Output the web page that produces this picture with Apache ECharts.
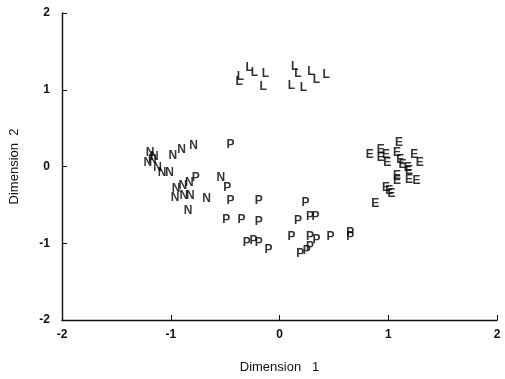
<!DOCTYPE html>
<html>
<head>
<meta charset="utf-8">
<script src="https://cdn.jsdelivr.net/npm/echarts@6/dist/echarts.min.js"></script>
<style>
  html, body { margin: 0; padding: 0; background: #fff; }
  #chart { width: 505px; height: 379px; }
</style>
</head>
<body>
<div id="chart"></div>
<script>
// group letters (markers) and their positions
const groupLetters = ['L', 'N', 'P', 'E']

const lPoints = [
  [-0.36, 1.17], [-0.28, 1.29], [-0.23, 1.22], [-0.13, 1.21], [-0.37, 1.10],
  [-0.15, 1.04], [0.14, 1.30], [0.17, 1.21], [0.11, 1.05], [0.22, 1.03],
  [0.29, 1.23], [0.34, 1.13], [0.43, 1.19]
]
const nPoints = [
  [-1.19, 0.18], [-1.15, 0.13], [-1.21, 0.05], [-1.17, 0.09], [-1.12, -0.01],
  [-1.08, -0.08], [-1.01, -0.08], [-0.98, 0.14], [-0.90, 0.22], [-0.79, 0.27],
  [-0.95, -0.29], [-0.89, -0.25], [-0.83, -0.21], [-0.96, -0.40], [-0.88, -0.38],
  [-0.82, -0.38], [-0.67, -0.42], [-0.84, -0.57], [-0.54, -0.14]
]
const pPoints = [
  [-0.45, 0.29], [-0.77, -0.14], [-0.48, -0.27], [-0.45, -0.45], [-0.19, -0.45],
  [0.24, -0.47], [-0.49, -0.69], [-0.35, -0.69], [-0.19, -0.72], [0.17, -0.71],
  [0.28, -0.65], [0.33, -0.66], [-0.30, -0.99], [-0.24, -0.97], [-0.19, -0.99],
  [-0.10, -1.08], [0.11, -0.92], [0.28, -0.92], [0.34, -0.95], [0.47, -0.91],
  [0.65, -0.86], [0.65, -0.92], [0.19, -1.14], [0.25, -1.10], [0.28, -1.04]
]
const ePoints = [
  [0.83, 0.16], [0.93, 0.22], [0.93, 0.12], [0.98, 0.16], [0.99, 0.05],
  [1.10, 0.31], [1.08, 0.18], [1.11, 0.09], [1.13, 0.03], [1.18, -0.01],
  [1.24, 0.16], [1.29, 0.05], [1.08, -0.12], [1.08, -0.19], [1.19, -0.17],
  [1.26, -0.19], [1.19, -0.06], [0.98, -0.27], [1.01, -0.32], [1.03, -0.35],
  [0.88, -0.48]
]

const xName = 'Dimension   1'
const yName = 'Dimension  2'
const font = 'Liberation Sans'

const letterSeries = (letter, pts) => ({
  type: 'scatter',
  name: letter,
  data: pts,
  symbolSize: 6,
  itemStyle: { color: 'rgba(0,0,0,0)' },
  label: {
    show: true,
    position: 'inside',
    formatter: letter,
    color: '#000',
    fontFamily: font,
    fontWeight: 'bold',
    fontSize: 12,
  },
  emphasis: { disabled: true },
})

const axisCommon = {
  type: 'value',
  min: -2,
  max: 2,
  interval: 1,
  splitLine: { show: false },
  axisLine: { show: true, onZero: false, lineStyle: { color: '#111', width: 1.4 } },
  axisTick: { show: true, inside: true, length: 5, lineStyle: { color: '#111' } },
  axisLabel: { color: '#111', fontFamily: font, fontSize: 12, fontWeight: 'bold' },
  nameLocation: 'middle',
  nameTextStyle: { color: '#111', fontFamily: font, fontSize: 13 },
}

const myChart = echarts.init(document.getElementById('chart'))
myChart.setOption({
  animation: false,
  backgroundColor: '#fff',
  grid: { left: 62, right: 8, top: 13, bottom: 57 },
  xAxis: Object.assign({}, axisCommon, {
    name: xName,
    nameGap: 41,
    axisLabel: Object.assign({}, axisCommon.axisLabel, { margin: 9 }),
  }),
  yAxis: Object.assign({}, axisCommon, {
    name: yName,
    nameGap: 41,
    axisLabel: Object.assign({}, axisCommon.axisLabel, { margin: 12 }),
  }),
  series: [
    letterSeries(groupLetters[0], lPoints),
    letterSeries(groupLetters[1], nPoints),
    letterSeries(groupLetters[2], pPoints),
    letterSeries(groupLetters[3], ePoints),
  ],
})
</script>
</body>
</html>
